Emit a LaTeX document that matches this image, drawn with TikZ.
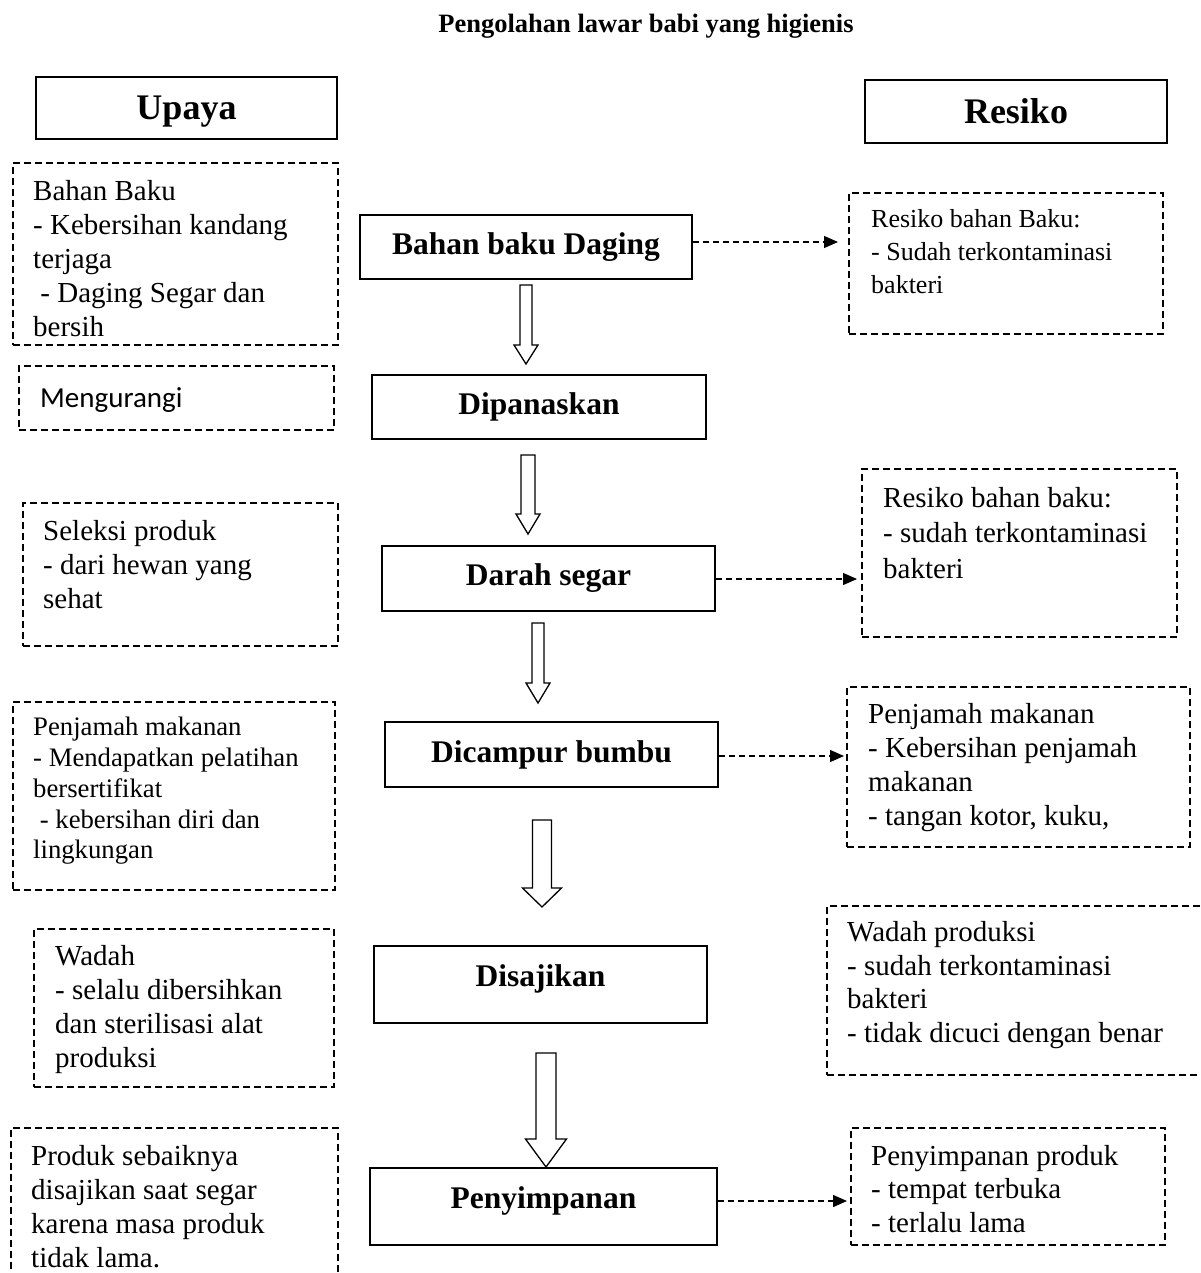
\documentclass[tikz,border=0pt]{standalone}
\usepackage{fontspec}
\setmainfont{Liberation Serif}
\newfontfamily\carlito{Carlito}
\usetikzlibrary{arrows.meta,calc}

% hollow block arrow: start, tip, shaft half width, head half width, head length
\newcommand{\hollowarrow}[5]{%
	\draw[line width=1.3pt, fill=white, line join=miter]
		($(#1)+(-#3,0)$) -- ($(#1)+(#3,0)$) -- ($(#2)+(#3,-#5)$) -- ($(#2)+(#4,-#5)$) -- (#2)
		-- ($(#2)+(-#4,-#5)$) -- ($(#2)+(-#3,-#5)$) -- cycle;}

\tikzset{
	titletext/.style={font=\fontsize{26.5}{30}\selectfont\bfseries},
	headbox/.style={draw, line width=2pt, text depth=0pt, font=\fontsize{36}{40}\selectfont\bfseries},
	stepbox/.style={draw, line width=2pt, font=\fontsize{31.5}{36}\selectfont\bfseries},
	notebox/.style={draw, line width=1.5pt, dash pattern=on 7pt off 4pt, inner sep=0pt},
	notetext/.style={anchor=north west, inner sep=0pt, align=left, font=\fontsize{29}{34}\selectfont},
	riskarrow/.style={line width=1.3pt, dash pattern=on 6pt off 4pt, -{Triangle[length=14pt,width=12pt]}}
}

\begin{document}
\begin{tikzpicture}[x=1pt, y=-1pt]
	\path[use as bounding box] (0,0) rectangle (1200,1273);
	\clip (0,0) rectangle (1200,1273);
	\node[titletext] (title) at (646,26) {Pengolahan lawar babi yang higienis};
	\node[headbox, minimum width=301, minimum height=62] (upaya) at (186.5,108) {Upaya};
	\node[headbox, minimum width=302, minimum height=63] (resiko) at (1016,111.5) {Resiko};
	% alur tengah
	\node[stepbox, minimum width=332, minimum height=64] (daging) at (526,247) {Bahan baku Daging};
	\node[stepbox, minimum width=334, minimum height=64] (panas) at (539,407) {Dipanaskan};
	\node[stepbox, minimum width=333, minimum height=65] (darah) at (548.5,578.5) {Darah segar};
	\node[stepbox, minimum width=333, minimum height=65] (bumbu) at (551.5,754.5) {Dicampur bumbu};
	\node[stepbox, minimum width=333, minimum height=77, text depth=17pt] (saji) at (540.5,984.5) {Disajikan};
	\node[stepbox, minimum width=347, minimum height=77, text depth=17pt] (simpan) at (543.5,1206.5) {Penyimpanan};
	\coordinate (h1) at (526,285); \coordinate (h1e) at (526,364);
	\coordinate (h2) at (528,455); \coordinate (h2e) at (528,534);
	\coordinate (h3) at (538,623); \coordinate (h3e) at (538,703);
	\coordinate (h4) at (542,820); \coordinate (h4e) at (542,907);
	\coordinate (h5) at (546,1053); \coordinate (h5e) at (546,1167);
	\hollowarrow{h1}{h1e}{6}{12}{19}
	\hollowarrow{h2}{h2e}{7}{12}{20}
	\hollowarrow{h3}{h3e}{6}{12}{20}
	\hollowarrow{h4}{h4e}{9.5}{19.5}{19}
	\hollowarrow{h5}{h5e}{10}{20.5}{28}
	% upaya
	\node[notebox, minimum width=325, minimum height=182] (u1) at (175.5,254) {};
	\node[notetext] (u1t) at (33,180) {Bahan Baku\\- Kebersihan kandang\\terjaga\\~- Daging Segar dan\\bersih};
	\node[notebox, minimum width=315, minimum height=64] (u2) at (176.5,398) {};
	\node[anchor=base west, inner sep=0pt, font=\fontsize{29}{34}\carlito] (u2t) at (40,407) {Mengurangi};
	\node[notebox, minimum width=315, minimum height=143] (u3) at (180.5,574.5) {};
	\node[notetext] (u3t) at (43,520) {Seleksi produk\\- dari hewan yang\\sehat};
	\node[notebox, minimum width=322, minimum height=188] (u4) at (174,796) {};
	\node[notetext, font=\fontsize{26.7}{30.8}\selectfont] (u4t) at (33,717) {Penjamah makanan\\- Mendapatkan pelatihan\\bersertifikat\\~- kebersihan diri dan\\lingkungan};
	\node[notebox, minimum width=300, minimum height=158] (u5) at (184,1008) {};
	\node[notetext] (u5t) at (55,945) {Wadah\\- selalu dibersihkan\\dan sterilisasi alat\\produksi};
	\node[notebox, minimum width=327, minimum height=180] (u6) at (174.5,1218) {};
	\node[notetext] (u6t) at (31,1145) {Produk sebaiknya\\disajikan saat segar\\karena masa produk\\tidak lama.};
	% resiko
	\node[notebox, minimum width=314, minimum height=141] (r1) at (1006,263.5) {};
	\node[notetext, font=\fontsize{26}{33}\selectfont] (r1t) at (871,209) {Resiko bahan Baku:\\- Sudah terkontaminasi\\bakteri};
	\node[notebox, minimum width=315, minimum height=168] (r2) at (1019.5,553) {};
	\node[notetext, font=\fontsize{29}{35.5}\selectfont] (r2t) at (883,487) {Resiko bahan baku:\\- sudah terkontaminasi\\bakteri};
	\node[notebox, minimum width=343, minimum height=160] (r3) at (1018.5,767) {};
	\node[notetext] (r3t) at (868,703) {Penjamah makanan\\- Kebersihan penjamah\\makanan\\- tangan kotor, kuku,};
	\node[notebox, minimum width=388, minimum height=169] (r4) at (1021,990.5) {};
	\node[notetext, font=\fontsize{29}{33.7}\selectfont] (r4t) at (847,921) {Wadah produksi\\- sudah terkontaminasi\\bakteri\\- tidak dicuci dengan benar};
	\node[notebox, minimum width=314, minimum height=117] (r5) at (1008,1186.5) {};
	\node[notetext, font=\fontsize{29}{33.5}\selectfont] (r5t) at (871,1145) {Penyimpanan produk\\- tempat terbuka\\- terlalu lama};
	% panah resiko
	\coordinate (t1) at (838,242);
	\coordinate (t2) at (857,579);
	\coordinate (t3) at (844,756);
	\coordinate (t4) at (847,1201);
	\draw[riskarrow] (daging.east |- t1) -- (t1);
	\draw[riskarrow] (darah.east |- t2) -- (t2);
	\draw[riskarrow] (bumbu.east |- t3) -- (t3);
	\draw[riskarrow] (simpan.east |- t4) -- (t4);
\end{tikzpicture}
\end{document}
